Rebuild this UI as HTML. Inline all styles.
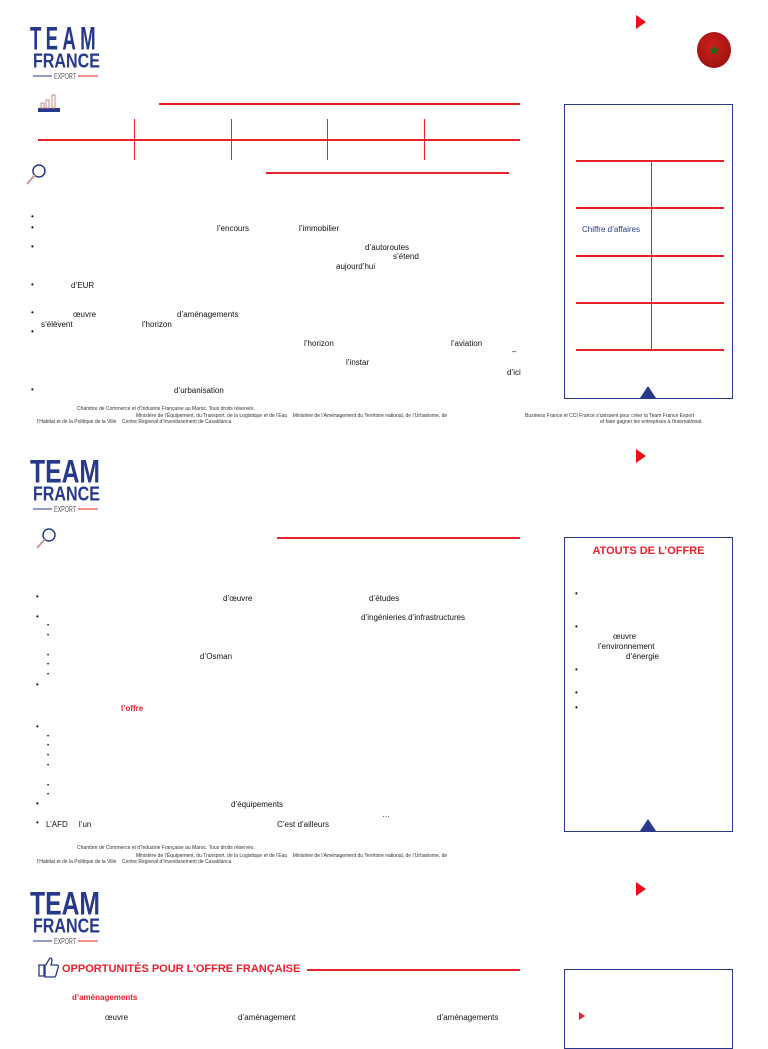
<!DOCTYPE html>
<html><head><meta charset="utf-8"><style>
body{margin:0;width:768px;height:1024px;background:#fff;position:relative;overflow:hidden;font-family:"Liberation Sans",sans-serif;color:#111}
.a{position:absolute;white-space:nowrap}
.t{font-size:8px;line-height:9px}
.f{font-size:5px;line-height:6px;color:#333}
.r{background:#e8202a;position:absolute}
.tri{position:absolute;width:0;height:0;border-top:7px solid transparent;border-bottom:7px solid transparent;border-left:10px solid #e8101a}
.box{position:absolute;border:1px solid #26398a;box-sizing:border-box}
.nav{position:absolute;width:0;height:0;border-left:8px solid transparent;border-right:8px solid transparent;border-bottom:12px solid #26398a}
.b{position:absolute;font-size:8px;line-height:8px}
</style></head><body>
<!-- PAGE 1 -->
<svg class="a" style="left:29px;top:24px" width="74" height="58"><g font-family="Liberation Sans" font-weight="bold" fill="#26398a" transform="scale(1,1.25)"><text x="1" y="20.5" font-size="26" textLength="70" lengthAdjust="spacingAndGlyphs" letter-spacing="6">TEAM</text><text x="4" y="35" font-size="16" textLength="67" lengthAdjust="spacingAndGlyphs">FRANCE</text></g><line x1="4" y1="52" x2="23" y2="52" stroke="#26398a"/><text x="25" y="55" font-size="8" fill="#555" font-family="Liberation Sans" textLength="22" lengthAdjust="spacingAndGlyphs">EXPORT</text><line x1="49" y1="52" x2="69" y2="52" stroke="#e8202a"/></svg>
<div class="tri" style="left:636px;top:15px"></div>
<div class="a" style="left:697px;top:32px;width:34px;height:36px;border-radius:50%;background:radial-gradient(circle at 45% 40%,#d0201c,#8a0f0c);color:#1a6a1a;font-size:14px;text-align:center;line-height:36px">★</div>
<svg class="a" style="left:38px;top:94px" width="22" height="20"><rect x="0" y="14" width="22" height="4" fill="#26398a"/><rect x="3" y="9" width="3" height="5" fill="none" stroke="#c88" /><rect x="8" y="6" width="3" height="8" fill="none" stroke="#c88"/><rect x="14" y="1" width="3" height="13" fill="none" stroke="#c88"/></svg>
<div class="r" style="left:159px;top:103px;width:361px;height:2px"></div>
<div class="r" style="left:38px;top:139px;width:482px;height:2px"></div>
<div class="r" style="left:134px;top:119px;width:1px;height:41px"></div>
<div class="r" style="left:231px;top:119px;width:1px;height:41px"></div>
<div class="r" style="left:327px;top:119px;width:1px;height:41px"></div>
<div class="r" style="left:424px;top:119px;width:1px;height:41px"></div>
<svg class="a" style="left:24px;top:162px" width="24" height="24"><circle cx="15" cy="9" r="6" fill="none" stroke="#26398a" stroke-width="1.5"/><line x1="11" y1="13" x2="3" y2="22" stroke="#c99" stroke-width="2"/></svg>
<div class="r" style="left:266px;top:172px;width:243px;height:2px"></div>
<div class="box" style="left:564px;top:104px;width:169px;height:295px"></div>
<div class="r" style="left:576px;top:160px;width:148px;height:2px"></div>
<div class="r" style="left:576px;top:207px;width:148px;height:2px"></div>
<div class="r" style="left:576px;top:255px;width:148px;height:2px"></div>
<div class="r" style="left:576px;top:302px;width:148px;height:2px"></div>
<div class="r" style="left:576px;top:349px;width:148px;height:2px"></div>
<div class="r" style="left:651px;top:160px;width:1px;height:189px"></div>
<div class="a t" style="left:582px;top:225px;color:#26398a">Chiffre d’affaires</div>
<div class="nav" style="left:640px;top:386px"></div>
<div class="b" style="left:31px;top:213px">•</div>
<div class="b" style="left:31px;top:224px">•</div>
<div class="b" style="left:31px;top:243px">•</div>
<div class="b" style="left:31px;top:281px">•</div>
<div class="b" style="left:31px;top:309px">•</div>
<div class="b" style="left:31px;top:328px">•</div>
<div class="b" style="left:31px;top:386px">•</div>
<div class="a t" style="left:217px;top:224px">l’encours</div>
<div class="a t" style="left:299px;top:224px">l’immobilier</div>
<div class="a t" style="left:365px;top:243px">d’autoroutes</div>
<div class="a t" style="left:393px;top:252px">s’étend</div>
<div class="a t" style="left:336px;top:262px">aujourd’hui</div>
<div class="a t" style="left:71px;top:281px">d’EUR</div>
<div class="a t" style="left:73px;top:310px">œuvre</div>
<div class="a t" style="left:177px;top:310px">d’aménagements</div>
<div class="a t" style="left:41px;top:320px">s’élèvent</div>
<div class="a t" style="left:142px;top:320px">l’horizon</div>
<div class="a t" style="left:304px;top:339px">l’horizon</div>
<div class="a t" style="left:451px;top:339px">l’aviation</div>
<div class="a t" style="left:512px;top:347px">–</div>
<div class="a t" style="left:346px;top:358px">l’instar</div>
<div class="a t" style="left:507px;top:368px">d’ici</div>
<div class="a t" style="left:174px;top:386px">d’urbanisation</div>
<div class="a f" style="left:77px;top:406px">Chambre de Commerce et d’Industrie Française au Maroc. Tous droits réservés.</div>
<div class="a f" style="left:136px;top:413px">Ministère de l’Équipement, du Transport, de la Logistique et de l’Eau &nbsp;&nbsp; Ministère de l’Aménagement du Territoire national, de l’Urbanisme, de</div>
<div class="a f" style="left:37px;top:419px">l’Habitat et de la Politique de la Ville &nbsp;&nbsp; Centre Régional d’Investissement de Casablanca</div>
<div class="a f" style="left:525px;top:413px">Business France et CCI France s’unissent pour créer la Team France Export</div>
<div class="a f" style="left:600px;top:419px">et faire gagner les entreprises à l’international.</div>
<!-- PAGE 2 -->
<div class="tri" style="left:636px;top:449px"></div>
<svg class="a" style="left:29px;top:457px" width="74" height="58"><g font-family="Liberation Sans" font-weight="bold" fill="#26398a" transform="scale(1,1.25)"><text x="1" y="20.5" font-size="26" textLength="70" lengthAdjust="spacingAndGlyphs">TEAM</text><text x="4" y="35" font-size="16" textLength="67" lengthAdjust="spacingAndGlyphs">FRANCE</text></g><line x1="4" y1="52" x2="23" y2="52" stroke="#26398a"/><text x="25" y="55" font-size="8" fill="#555" font-family="Liberation Sans" textLength="22" lengthAdjust="spacingAndGlyphs">EXPORT</text><line x1="49" y1="52" x2="69" y2="52" stroke="#e8202a"/></svg>
<svg class="a" style="left:34px;top:526px" width="24" height="24"><circle cx="15" cy="9" r="6" fill="none" stroke="#26398a" stroke-width="1.5"/><line x1="11" y1="13" x2="3" y2="22" stroke="#c99" stroke-width="2"/></svg>
<div class="r" style="left:277px;top:537px;width:243px;height:2px"></div>
<div class="box" style="left:564px;top:537px;width:169px;height:295px"></div>
<div class="a" style="left:564px;top:545px;width:169px;text-align:center;color:#e8202a;font-weight:bold;font-size:11px">ATOUTS DE L’OFFRE</div>
<div class="b" style="left:575px;top:590px">•</div>
<div class="b" style="left:575px;top:623px">•</div>
<div class="b" style="left:575px;top:666px">•</div>
<div class="b" style="left:575px;top:689px">•</div>
<div class="b" style="left:575px;top:704px">•</div>
<div class="a t" style="left:613px;top:632px">œuvre</div>
<div class="a t" style="left:598px;top:642px">l’environnement</div>
<div class="a t" style="left:626px;top:652px">d’énergie</div>
<div class="nav" style="left:640px;top:819px"></div>
<div class="b" style="left:36px;top:593px">•</div>
<div class="b" style="left:36px;top:613px">•</div>
<div class="b" style="left:36px;top:681px">•</div>
<div class="b" style="left:36px;top:723px">•</div>
<div class="b" style="left:36px;top:800px">•</div>
<div class="b" style="left:36px;top:819px">•</div>
<div class="b" style="left:47px;top:622px;font-size:6px">•</div>
<div class="b" style="left:47px;top:632px;font-size:6px">•</div>
<div class="b" style="left:47px;top:652px;font-size:6px">•</div>
<div class="b" style="left:47px;top:661px;font-size:6px">•</div>
<div class="b" style="left:47px;top:671px;font-size:6px">•</div>
<div class="b" style="left:47px;top:733px;font-size:6px">•</div>
<div class="b" style="left:47px;top:742px;font-size:6px">•</div>
<div class="b" style="left:47px;top:752px;font-size:6px">•</div>
<div class="b" style="left:47px;top:762px;font-size:6px">•</div>
<div class="b" style="left:47px;top:782px;font-size:6px">•</div>
<div class="b" style="left:47px;top:791px;font-size:6px">•</div>
<div class="a t" style="left:223px;top:594px">d’œuvre</div>
<div class="a t" style="left:369px;top:594px">d’études</div>
<div class="a t" style="left:361px;top:613px">d’ingénieries d’infrastructures</div>
<div class="a t" style="left:200px;top:652px">d’Osman</div>
<div class="a t" style="left:121px;top:704px;color:#e8202a;font-weight:bold">l’offre</div>
<div class="a t" style="left:231px;top:800px">d’équipements</div>
<div class="a t" style="left:382px;top:810px">…</div>
<div class="a t" style="left:46px;top:820px">L’AFD &nbsp;&nbsp;&nbsp; l’un</div>
<div class="a t" style="left:277px;top:820px">C’est d’ailleurs</div>
<div class="a f" style="left:77px;top:845px">Chambre de Commerce et d’Industrie Française au Maroc. Tous droits réservés.</div>
<div class="a f" style="left:136px;top:853px">Ministère de l’Équipement, du Transport, de la Logistique et de l’Eau &nbsp;&nbsp; Ministère de l’Aménagement du Territoire national, de l’Urbanisme, de</div>
<div class="a f" style="left:37px;top:859px">l’Habitat et de la Politique de la Ville &nbsp;&nbsp; Centre Régional d’Investissement de Casablanca</div>
<!-- PAGE 3 -->
<div class="tri" style="left:636px;top:882px"></div>
<svg class="a" style="left:29px;top:889px" width="74" height="58"><g font-family="Liberation Sans" font-weight="bold" fill="#26398a" transform="scale(1,1.25)"><text x="1" y="20.5" font-size="26" textLength="70" lengthAdjust="spacingAndGlyphs">TEAM</text><text x="4" y="35" font-size="16" textLength="67" lengthAdjust="spacingAndGlyphs">FRANCE</text></g><line x1="4" y1="52" x2="23" y2="52" stroke="#26398a"/><text x="25" y="55" font-size="8" fill="#555" font-family="Liberation Sans" textLength="22" lengthAdjust="spacingAndGlyphs">EXPORT</text><line x1="49" y1="52" x2="69" y2="52" stroke="#e8202a"/></svg>
<svg class="a" style="left:37px;top:956px" width="22" height="22"><path d="M2 9h5v11H2zM8 10l5-8c2 0 2 2 2 3l-1 4h6c1 0 2 1 1 3l-2 7c0 1-1 2-2 2H8z" fill="none" stroke="#26398a" stroke-width="1.3"/></svg>
<div class="a" style="left:62px;top:963px;color:#e8202a;font-weight:bold;font-size:11px">OPPORTUNITÉS POUR L’OFFRE FRANÇAISE</div>
<div class="r" style="left:307px;top:969px;width:213px;height:2px"></div>
<div class="box" style="left:564px;top:969px;width:169px;height:80px"></div>
<div class="a" style="left:579px;top:1012px;width:0;height:0;border-top:4px solid transparent;border-bottom:4px solid transparent;border-left:6px solid #e8202a"></div>
<div class="a t" style="left:72px;top:993px;color:#e8202a;font-weight:bold">d’aménagements</div>
<div class="a t" style="left:105px;top:1013px">œuvre</div>
<div class="a t" style="left:238px;top:1013px">d’aménagement</div>
<div class="a t" style="left:437px;top:1013px">d’aménagements</div>
</body></html>
